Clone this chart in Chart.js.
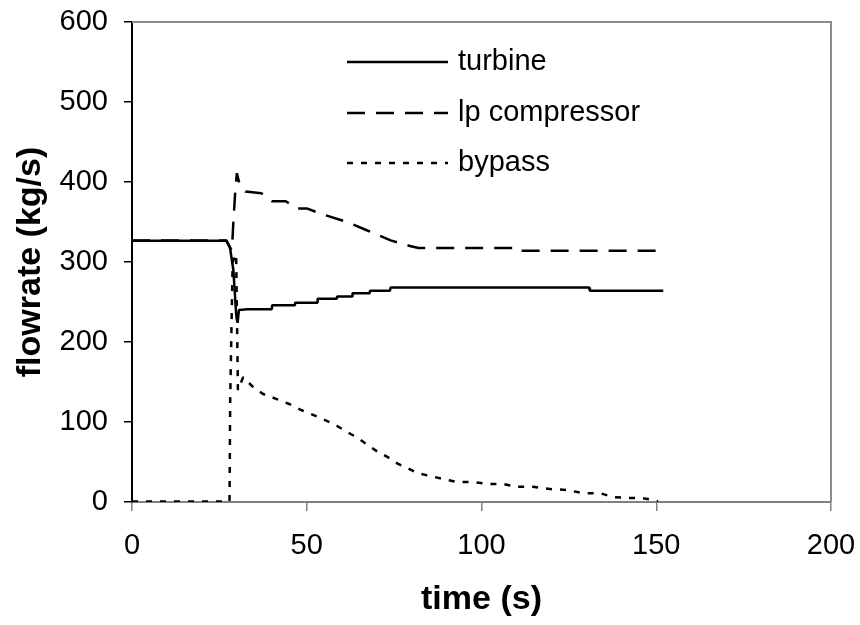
<!DOCTYPE html>
<html>
<head>
<meta charset="utf-8">
<script src="https://cdn.jsdelivr.net/npm/chart.js@4/dist/chart.umd.min.js"></script>
<style>
html,body{margin:0;padding:0;background:#fff;}
#wrap{position:relative;width:860px;height:625px;}
</style>
</head>
<body>
<div id="wrap"><canvas id="c" width="860" height="625"></canvas></div>
<script>
// ---- data (time in s, flowrate in kg/s) ----
const turbineT = [0, 27, 28, 29, 29.8, 30.2, 30.6, 33, 40, 40.1, 46.6, 46.7, 53, 53.1, 58.6, 58.7, 63, 63.1, 68, 68.1, 73.8, 74, 130.8, 131, 152];
const turbineQ = [326.5, 326.5, 319, 290, 235, 224, 240, 241, 241, 246, 246, 249, 249, 254, 254, 257, 257, 261, 261, 264, 264, 268, 268, 264, 264];

const lpT = [0, 27, 28, 28.6, 29, 29.5, 30, 30.8, 32.5, 37, 40, 44, 47, 50, 53, 55, 61.5, 67, 74, 79.5, 82, 109, 109.5, 152];
const lpQ = [327, 327, 318, 315, 350, 385, 411, 397, 388, 386, 376, 376, 367, 367, 362, 359, 350, 340, 327, 320, 317.5, 317.5, 314, 314];

const bypassT = [0, 27.9, 28.1, 28.8, 29.8, 30.3, 31.8, 34.6, 37.5, 41.2, 45, 48.4, 51.8, 55.2, 58.7, 61.5, 64.7, 67.5, 70.4, 73.2, 76, 78.7, 81.8, 85.3, 89, 93, 97.6, 101.6, 106, 110.4, 114.7, 120.2, 124.5, 129, 134, 137.6, 142, 146, 150.5];
const bypassQ = [0.5, 0.5, 129, 300, 310, 140, 156, 144, 135, 129, 122.5, 115, 109, 102.5, 95, 87.5, 80, 71, 62.5, 56, 48, 42.5, 36, 32.5, 28.75, 25, 25, 22.5, 22.5, 19, 19, 16, 15, 11, 11, 6, 5, 5, 1];

const seriesNames = ["turbine", "lp compressor", "bypass"];
const xTicks = [0, 50, 100, 150, 200];
const yTicks = [0, 100, 200, 300, 400, 500, 600];
const xTitle = "time (s)";
const yTitle = "flowrate (kg/s)";

const pts = (t, q) => t.map((v, i) => ({x: v, y: q[i]}));

const FONT = "'Liberation Sans', Arial, sans-serif";

const frame = {
  id: 'frame',
  beforeDatasetsDraw(chart) {
    const {ctx, chartArea: a} = chart;
    ctx.save();
    ctx.strokeStyle = '#8c8c8c';
    ctx.lineWidth = 2;
    ctx.beginPath();
    ctx.moveTo(a.left, a.top); ctx.lineTo(a.right, a.top); ctx.lineTo(a.right, a.bottom);
    ctx.stroke();
    ctx.restore();
  }
};

const inLegend = {
  id: 'inLegend',
  afterDraw(chart) {
    const {ctx} = chart;
    const x0 = 347, x1 = 448, tx = 458, ys = [62, 113, 163];
    ctx.save();
    chart.data.datasets.forEach((ds, i) => {
      ctx.strokeStyle = ds.borderColor;
      ctx.lineWidth = ds.borderWidth;
      ctx.setLineDash(ds.borderDash || []);
      ctx.beginPath();
      ctx.moveTo(x0, ys[i]); ctx.lineTo(x1, ys[i]);
      ctx.stroke();
      ctx.setLineDash([]);
      ctx.fillStyle = '#000';
      ctx.font = '29px ' + FONT;
      ctx.textBaseline = 'middle';
      ctx.textAlign = 'left';
      ctx.fillText(ds.label, tx, ys[i]);
    });
    ctx.restore();
  }
};

new Chart(document.getElementById('c'), {
  type: 'line',
  data: {
    datasets: [
      {label: seriesNames[0], data: pts(turbineT, turbineQ), borderColor: '#000', borderWidth: 2.5, borderJoinStyle: 'bevel', pointRadius: 0, tension: 0, fill: false},
      {label: seriesNames[1], data: pts(lpT, lpQ), borderColor: '#000', borderWidth: 2.5, borderJoinStyle: 'bevel', borderDash: [18, 11], pointRadius: 0, tension: 0, fill: false},
      {label: seriesNames[2], data: pts(bypassT, bypassQ), borderColor: '#000', borderWidth: 2.5, borderJoinStyle: 'bevel', borderDash: [6, 8], pointRadius: 0, tension: 0, fill: false}
    ]
  },
  options: {
    responsive: false,
    animation: false,
    layout: {padding: {left: 0, right: 29, top: 22, bottom: 0}},
    plugins: {legend: {display: false}, tooltip: {enabled: false}},
    scales: {
      x: {
        type: 'linear', min: 0, max: 200,
        afterBuildTicks: s => { s.ticks = xTicks.map(v => ({value: v})); },
        afterFit: s => { s.height = 123; s.paddingLeft = 0; s.paddingRight = 0; },
        border: {color: '#808080', width: 2},
        grid: {drawOnChartArea: false, drawTicks: true, tickLength: 9, color: '#808080', lineWidth: 1.5},
        ticks: {color: '#000', font: {family: FONT, size: 29}, padding: 18, maxRotation: 0},
        title: {display: true, text: xTitle, color: '#000', font: {family: FONT, size: 34, weight: 'bold'}, padding: {top: 0, bottom: 5}}
      },
      y: {
        type: 'linear', min: 0, max: 600,
        afterBuildTicks: s => { s.ticks = yTicks.map(v => ({value: v})); },
        afterFit: s => { s.width = 132; s.paddingTop = 0; s.paddingBottom = 0; },
        border: {color: '#000', width: 2},
        grid: {drawOnChartArea: false, drawTicks: true, tickLength: 8, color: '#000', lineWidth: 1.5},
        ticks: {color: '#000', font: {family: FONT, size: 29}, padding: 16},
        title: {display: true, text: yTitle, color: '#000', font: {family: FONT, size: 34, weight: 'bold'}, padding: {top: 10, bottom: 0}}
      }
    }
  },
  plugins: [frame, inLegend]
});
</script>
</body>
</html>
